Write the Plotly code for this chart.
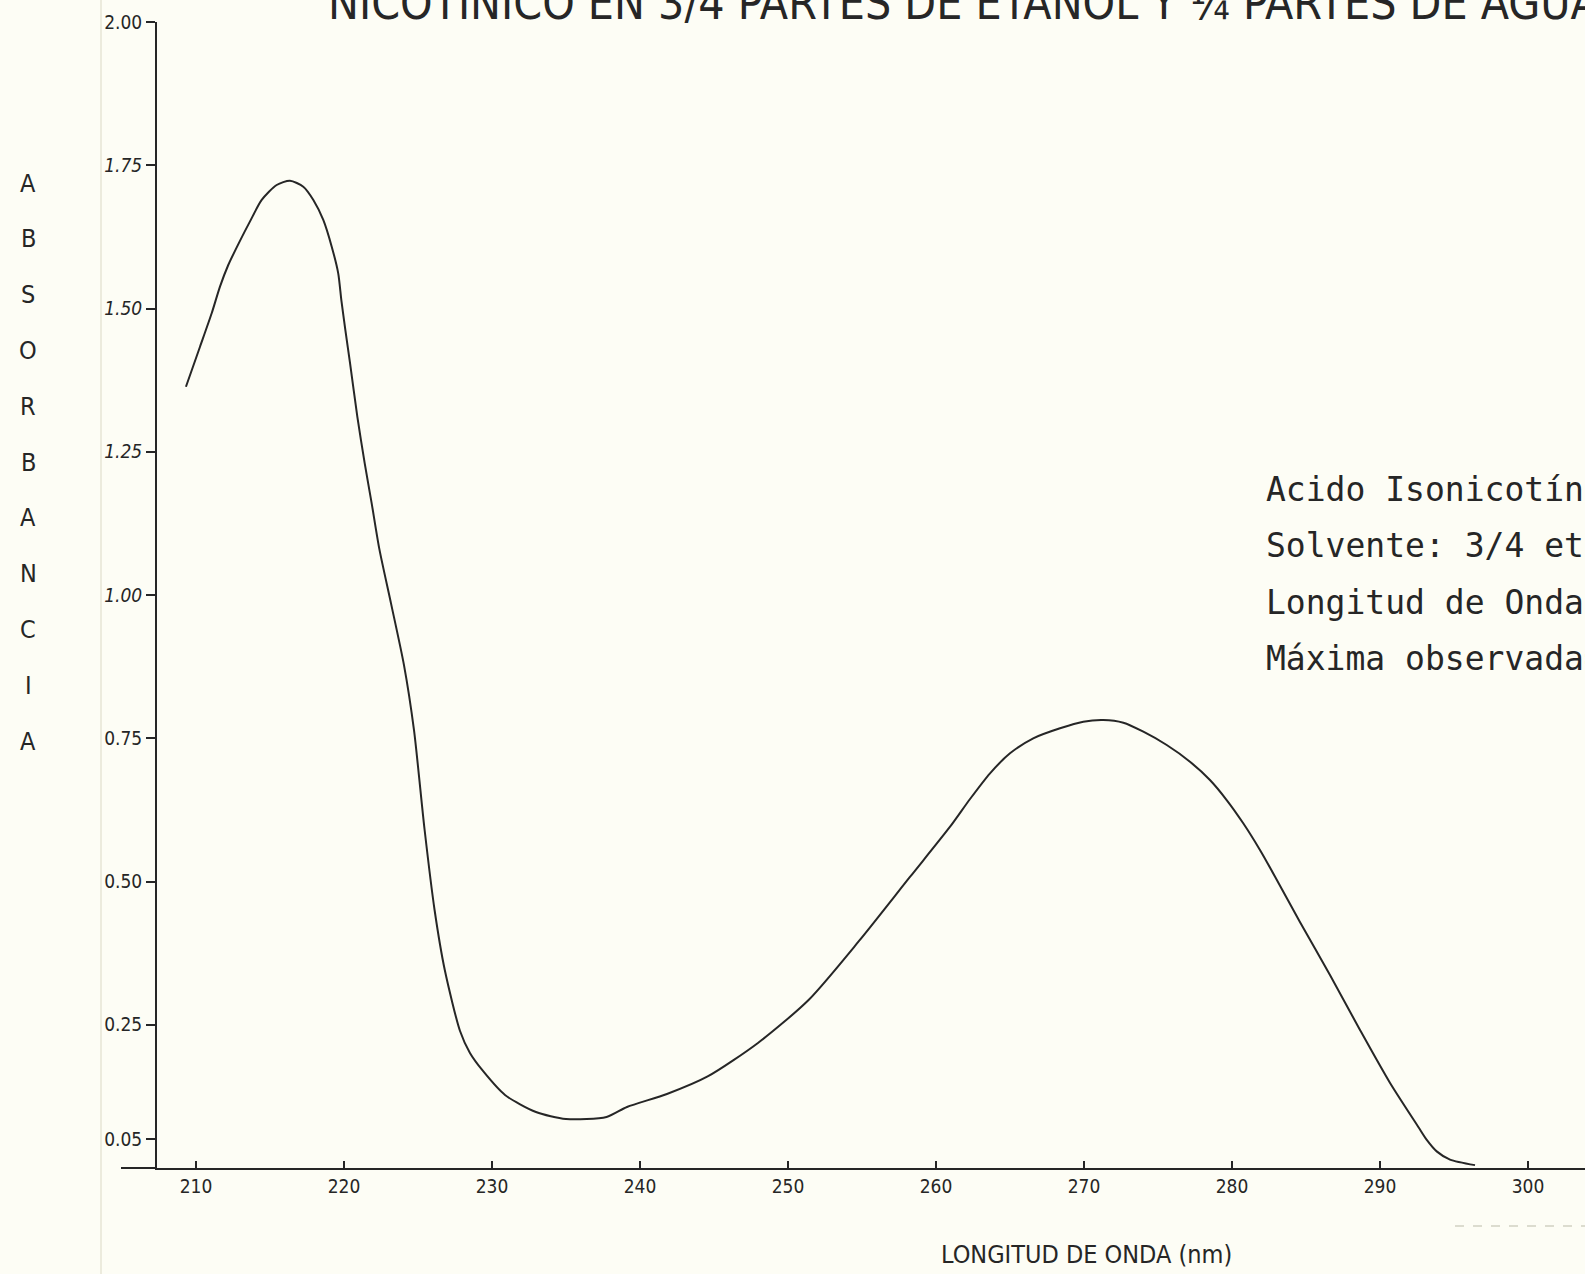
import plotly.graph_objects as go

# ---------------- data ----------------
wavelength_nm = [209.32, 210.27, 211.06, 211.62, 212.18, 212.97, 213.65, 214.44, 215.45, 216.35,
                 217.25, 217.93, 218.60, 219.17, 219.61, 219.82, 220.09, 220.41, 220.90, 221.40,
                 221.87, 222.39, 223.18, 224.05, 224.73, 225.44, 226.12, 226.81, 227.84, 228.51,
                 229.39, 230.88, 232.97, 235.00, 237.74, 239.12, 241.82, 244.57, 247.97, 251.39,
                 254.80, 258.24, 260.95, 262.30, 263.65, 265.00, 266.57, 268.38, 269.95, 271.30,
                 272.66, 274.01, 275.59, 277.16, 278.51, 279.64, 280.76, 281.89, 282.91, 284.59,
                 286.62, 288.65, 290.68, 292.59, 293.16, 293.83, 294.73, 296.42]
absorbance = [1.3635, 1.4333, 1.4916, 1.5381, 1.5759, 1.6180, 1.6520, 1.6894, 1.7155, 1.7230,
              1.7126, 1.6894, 1.6545, 1.6079, 1.5614, 1.5148, 1.4625, 1.4044, 1.3112, 1.2298,
              1.1600, 1.0800, 0.9850, 0.8780, 0.7640, 0.5916, 0.4503, 0.3455, 0.2391, 0.2007,
              0.1693, 0.1274, 0.0977, 0.0855, 0.0890, 0.1065, 0.1291, 0.1597, 0.2182, 0.2932,
              0.3962, 0.5079, 0.5956, 0.6440, 0.6888, 0.7237, 0.7499, 0.7674, 0.7789, 0.7818,
              0.7771, 0.7614, 0.7382, 0.7091, 0.6771, 0.6422, 0.6016, 0.5550, 0.5084, 0.4293,
              0.3368, 0.2408, 0.1483, 0.0716, 0.0490, 0.0290, 0.0147, 0.0050]

x_tick_values = [210, 220, 230, 240, 250, 260, 270, 280, 290, 300]
x_tick_labels = ["210", "220", "230", "240", "250", "260", "270", "280", "290", "300"]
y_tick_values = [0.05, 0.25, 0.50, 0.75, 1.00, 1.25, 1.50, 1.75, 2.00]
y_tick_labels = ["0.05", "0.25", "0.50", "0.75", "1.00", "1.25", "1.50", "1.75", "2.00"]

title_text = "NICOTINICO EN 3/4 PARTES DE ETANOL Y ¼ PARTES DE AGUA"
x_title = "LONGITUD DE ONDA (nm)"
y_title_letters = list("ABSORBANCIA")
info_lines = ["Acido Isonicotín", "Solvente: 3/4 eta", "Longitud de Onda", "Máxima observada="]

# ---------------- layout geometry (pixels) ----------------
W, H = 1585, 1274
L, R, T, B = 157, 0, 22, 106
PW, PH = W - L - R, H - T - B

def px(x):
    return (x - L) / PW

def py(y):
    return (H - B - y) / PH

INK = "#262626"
PAPER = "#fdfdf5"
LETTER = "DejaVu Sans Condensed, Liberation Sans Narrow, Roboto Condensed, DejaVu Sans, sans-serif"
MONO = "DejaVu Sans Mono, Liberation Mono, monospace"

# hand-lettered labels above 1 are slanted in the original
y_tick_text = [f"<i>{t}</i>" if t.startswith("1") else t for t in y_tick_labels]

fig = go.Figure()
fig.add_trace(go.Scatter(
    x=wavelength_nm, y=absorbance, mode="lines",
    line=dict(color=INK, width=2, shape="spline", smoothing=0.7),
    hoverinfo="x+y", showlegend=False,
))

annotations = []
# title, cropped at the very top of the page as in the original
annotations.append(dict(text=title_text, xref="paper", yref="paper", x=px(326), y=py(3),
                        xanchor="left", yanchor="middle", showarrow=False,
                        font=dict(family=LETTER, size=46, color=INK)))
# x axis title
annotations.append(dict(text=x_title, xref="paper", yref="paper", x=px(1086), y=py(1254),
                        xanchor="center", yanchor="middle", showarrow=False,
                        font=dict(family=LETTER, size=25, color=INK)))
# vertical letters
for i, ch in enumerate(y_title_letters):
    annotations.append(dict(text=ch, xref="paper", yref="paper", x=px(28), y=py(183 + i * 55.8),
                            xanchor="center", yanchor="middle", showarrow=False,
                            font=dict(family=LETTER, size=25, color=INK)))
# info block on the right (cut by the page edge as in the original)
for i, line in enumerate(info_lines):
    annotations.append(dict(text=line, xref="paper", yref="paper", x=px(1264), y=py(489 + i * 56.5),
                            xanchor="left", yanchor="middle", showarrow=False,
                            font=dict(family=MONO, size=33, color=INK)))

shapes = [
    # x axis extends to the left of the y axis
    dict(type="line", xref="paper", yref="paper", x0=px(121), x1=0, y0=0, y1=0,
         line=dict(color=INK, width=2)),
    # faint paper edge line
    dict(type="line", xref="paper", yref="paper", x0=px(101), x1=px(101), y0=py(0), y1=py(H),
         line=dict(color="#ecebdd", width=2), layer="below"),
    # faint dashed mark at the bottom right
    dict(type="line", xref="paper", yref="paper", x0=px(1455), x1=px(1585), y0=py(1226), y1=py(1226),
         line=dict(color="#dcdccf", width=2, dash="dash"), layer="below"),
]

fig.update_layout(
    width=W, height=H,
    margin=dict(l=L, r=R, t=T, b=B, pad=0),
    paper_bgcolor=PAPER, plot_bgcolor=PAPER,
    annotations=annotations, shapes=shapes,
    showlegend=False,
)
fig.update_xaxes(
    range=[210 - (196 - L) / 14.8, 210 + (W - 196) / 14.8],
    tickvals=x_tick_values, ticktext=x_tick_labels,
    showgrid=False, zeroline=False,
    showline=True, linecolor=INK, linewidth=2,
    ticks="inside", ticklen=7, tickwidth=2, tickcolor=INK,
    tickfont=dict(family=LETTER, size=19, color=INK),
)
fig.update_yaxes(
    range=[0, 2.0],
    tickvals=y_tick_values, ticktext=y_tick_text,
    showgrid=False, zeroline=False,
    showline=True, linecolor=INK, linewidth=2,
    ticks="outside", ticklen=9, tickwidth=1.5, tickcolor=INK,
    tickfont=dict(family=LETTER, size=19, color=INK),
)

fig.write_html("out.html")
